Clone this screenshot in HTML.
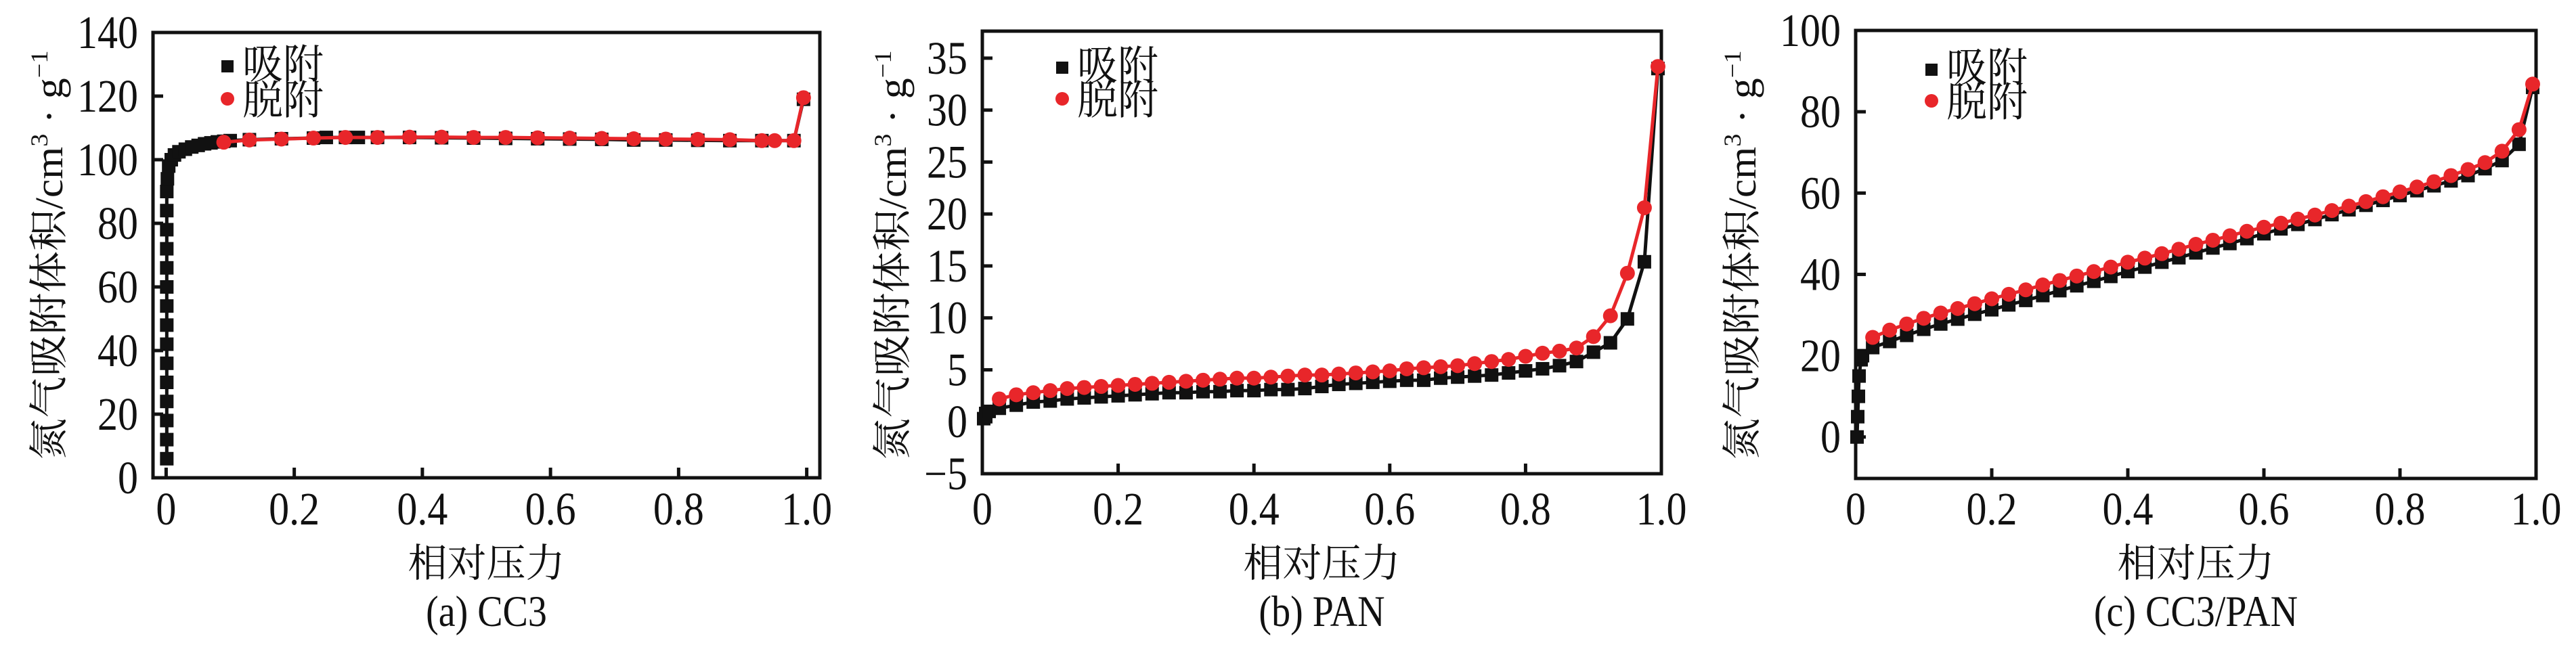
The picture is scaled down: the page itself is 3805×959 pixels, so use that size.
<!DOCTYPE html>
<html><head><meta charset="utf-8"><style>
html,body{margin:0;padding:0;background:#fff}
svg{display:block}
</style></head><body>
<svg id="fig" xmlns="http://www.w3.org/2000/svg" width="3805" height="959" viewBox="0 0 3805 959"></svg>
<script>
// Panel (a) CC3
const aAdsX=[0.001,0.001,0.001,0.001,0.001,0.001,0.001,0.001,0.001,0.001,0.001,0.001,0.001,0.001,0.001,0.002,0.004,0.008,0.013,0.02,0.03,0.04,0.05,0.06,0.07,0.08,0.09,0.1,0.13,0.18,0.23,0.25,0.28,0.3,0.33,0.38,0.43,0.48,0.53,0.58,0.63,0.68,0.73,0.78,0.83,0.88,0.93,0.98,0.995];
const aAdsY=[6,12,18,24,30,36,42,48,54,60,66,72,78,84,90,94,98,100,101.5,102.5,103.3,104,104.5,105,105.3,105.6,105.8,106,106.3,106.6,106.8,107,107,107,107,107,106.9,106.8,106.7,106.6,106.5,106.4,106.2,106.2,106.1,106,106,106,119];
const aDesX=[0.995,0.98,0.95,0.93,0.88,0.83,0.78,0.73,0.68,0.63,0.58,0.53,0.48,0.43,0.38,0.33,0.28,0.23,0.18,0.13,0.09];
const aDesY=[119.5,106,106,106,106.3,106.4,106.5,106.6,106.7,106.8,106.9,107,107,107.1,107.1,107,107,106.8,106.5,106.2,105.5];
// Panel (b) PAN
const bAdsX=[0.002,0.005,0.01,0.025,0.05,0.075,0.1,0.125,0.15,0.175,0.2,0.225,0.25,0.275,0.3,0.325,0.35,0.375,0.4,0.425,0.45,0.475,0.5,0.525,0.55,0.575,0.6,0.625,0.65,0.675,0.7,0.725,0.75,0.775,0.8,0.825,0.85,0.875,0.9,0.925,0.95,0.975,0.995];
const bAdsY=[0.3,0.8,1.0,1.3,1.6,1.9,2.0,2.2,2.3,2.4,2.5,2.6,2.7,2.8,2.8,2.9,2.9,3.0,3.0,3.1,3.1,3.2,3.4,3.6,3.7,3.8,3.9,4.0,4.0,4.2,4.3,4.4,4.5,4.7,4.9,5.1,5.4,5.8,6.7,7.6,9.9,15.4,34];
const bDesX=[0.995,0.975,0.95,0.925,0.9,0.875,0.85,0.825,0.8,0.775,0.75,0.725,0.7,0.675,0.65,0.625,0.6,0.575,0.55,0.525,0.5,0.475,0.45,0.425,0.4,0.375,0.35,0.325,0.3,0.275,0.25,0.225,0.2,0.175,0.15,0.125,0.1,0.075,0.05,0.025];
const bDesY=[34.2,20.6,14.3,10.2,8.2,7.1,6.8,6.6,6.3,6.0,5.8,5.6,5.4,5.3,5.2,5.1,4.9,4.8,4.7,4.6,4.5,4.5,4.4,4.3,4.2,4.2,4.1,4.0,3.9,3.8,3.7,3.6,3.5,3.4,3.3,3.2,3.0,2.8,2.6,2.2];
// Panel (c) CC3/PAN
const cAdsX=[0.002,0.003,0.004,0.005,0.008,0.01,0.025,0.05,0.075,0.1,0.125,0.15,0.175,0.2,0.225,0.25,0.275,0.3,0.325,0.35,0.375,0.4,0.425,0.45,0.475,0.5,0.525,0.55,0.575,0.6,0.625,0.65,0.675,0.7,0.725,0.75,0.775,0.8,0.825,0.85,0.875,0.9,0.925,0.95,0.975,0.995];
const cAdsY=[0,5,10,15,19,20,22,23.5,25,26.5,27.8,29,30.2,31.3,32.5,33.6,34.8,36,37.2,38.3,39.5,40.7,41.8,43,44.1,45.3,46.5,47.6,48.8,50,51.2,52.3,53.5,54.7,55.9,57,58.2,59.4,60.6,61.8,63,64.3,66,68,72,86];
const cDesX=[0.995,0.975,0.95,0.925,0.9,0.875,0.85,0.825,0.8,0.775,0.75,0.725,0.7,0.675,0.65,0.625,0.6,0.575,0.55,0.525,0.5,0.475,0.45,0.425,0.4,0.375,0.35,0.325,0.3,0.275,0.25,0.225,0.2,0.175,0.15,0.125,0.1,0.075,0.05,0.025];
const cDesY=[86.8,75.6,70.3,67.5,65.8,64.3,62.8,61.5,60.3,59.1,57.9,56.8,55.7,54.6,53.6,52.6,51.6,50.6,49.5,48.4,47.4,46.2,45.1,44,43,41.8,40.7,39.6,38.5,37.4,36.2,35.1,34,32.8,31.6,30.5,29.2,27.8,26.3,24.5];
const xTickVals=[0,0.2,0.4,0.6,0.8,1.0];
const xTickLabels=["0","0.2","0.4","0.6","0.8","1.0"];
const aYTicks=[0,20,40,60,80,100,120,140];
const bYTicks=[-5,0,5,10,15,20,25,30,35];
const cYTicks=[0,20,40,60,80,100];
const captions=["(a) CC3","(b) PAN","(c) CC3/PAN"];

const NS="http://www.w3.org/2000/svg";
const svg=document.getElementById('fig');
function mk(tag,attrs,parent){const e=document.createElementNS(NS,tag);for(const k in attrs)e.setAttribute(k,attrs[k]);(parent||svg).appendChild(e);return e;}

const panels=[
 {L:226,R:1211,T:48,B:706,x0:-0.0205,x1:1.0205,y0:0,y1:140,yt:aYTicks,ax:aAdsX,ay:aAdsY,dx:aDesX,dy:aDesY,lx:336,ly1:93,ly2:146,ylx:70,cap:captions[0],key:'a'},
 {L:1451,R:2454,T:46,B:700,x0:0,x1:1,y0:-5,y1:37.6,yt:bYTicks,ax:bAdsX,ay:bAdsY,dx:bDesX,dy:bDesY,lx:1569,ly1:95,ly2:146,ylx:1316,cap:captions[1],key:'b'},
 {L:2741,R:3746,T:45,B:707,x0:0,x1:1,y0:-10.2,y1:100,yt:cYTicks,ax:cAdsX,ay:cAdsY,dx:cDesX,dy:cDesY,lx:2853,ly1:98,ly2:149,ylx:2571,cap:captions[2],key:'c'}
];

panels.forEach(p=>{
 const g=mk('g',{});
 
 
 const sx=v=>p.L+(v-p.x0)/(p.x1-p.x0)*(p.R-p.L);
 const sy=v=>p.B-(v-p.y0)/(p.y1-p.y0)*(p.B-p.T);
 const frame=mk('rect',{x:p.L,y:p.T,width:p.R-p.L,height:p.B-p.T,fill:'none',stroke:'#111','stroke-width':5},g);
 
 
 xTickVals.forEach((v,i)=>{
  const x=sx(v);
  const t=mk('line',{x1:x,y1:p.B,x2:x,y2:p.B-15,stroke:'#111','stroke-width':5},g);
  
  
  const lb=mk('text',{x:x,y:0,transform:'translate(0,775) scale(1,1.15)','text-anchor':'middle','font-family':'Liberation Serif, serif','font-size':60,fill:'#111'},g);
  lb.textContent=xTickLabels[i];
  
  
 });
 p.yt.forEach(v=>{
  const y=sy(v);
  const t=mk('line',{x1:p.L,y1:y,x2:p.L+15,y2:y,stroke:'#111','stroke-width':5},g);
  
  
  const lb=mk('text',{x:p.L-22,y:0,transform:'translate(0,'+(y+23)+') scale(1,1.15)','text-anchor':'end','font-family':'Liberation Serif, serif','font-size':60,fill:'#111'},g);
  lb.textContent=(v<0?'\u2212'+(-v):String(v));
  
  
 });
 const cx=(p.L+p.R)/2;
 const xt=mk('text',{x:cx,y:852,'text-anchor':'middle','font-family':'Liberation Serif, Noto Serif CJK SC, serif','font-size':58,fill:'#111'},g);
 xt.textContent='相对压力';
 
 
 const cp=mk('text',{x:cx,y:0,transform:'translate(0,925) scale(1,1.15)','text-anchor':'middle','font-family':'Liberation Serif, serif','font-size':56,fill:'#111'},g);
 cp.textContent=p.cap;
 
 
 const yl=mk('text',{x:0,y:0,transform:'translate('+(p.ylx+22)+',377) rotate(-90)','text-anchor':'middle','font-family':'Liberation Serif, Noto Serif CJK SC, serif','font-size':58,fill:'#111',textLength:605,lengthAdjust:'spacingAndGlyphs'},g);
 yl.innerHTML='氮气吸附体积/cm<tspan dy="-22" font-size="36">3</tspan><tspan dy="22"> · g</tspan><tspan dy="-22" font-size="36">−1</tspan>';
 
 
 const ap=p.ax.map((x,i)=>sx(x)+','+sy(p.ay[i])).join(' ');
 const al=mk('polyline',{points:ap,fill:'none',stroke:'#111','stroke-width':5},g);
 
 
 p.ax.forEach((x,i)=>{
  const m=mk('rect',{x:sx(x)-10,y:sy(p.ay[i])-10,width:20,height:20,fill:'#111'},g);
  
  
 });
 const dp=p.dx.map((x,i)=>sx(x)+','+sy(p.dy[i])).join(' ');
 const dl=mk('polyline',{points:dp,fill:'none',stroke:'#e8262a','stroke-width':5},g);
 
 
 p.dx.forEach((x,i)=>{
  const m=mk('circle',{cx:sx(x),cy:sy(p.dy[i]),r:11,fill:'#e8262a'},g);
  
  
 });
 const lm1=mk('rect',{x:p.lx-9,y:p.ly1-4,width:18,height:18,fill:'#111'},g);
 
 
 const lt1=mk('text',{x:p.lx+22,y:p.ly1+23,'font-family':'Liberation Serif, Noto Serif CJK SC, serif','font-size':60,fill:'#111'},g);
 lt1.textContent='吸附';
 
 
 const lm2=mk('circle',{cx:p.lx,cy:p.ly2,r:10,fill:'#e8262a'},g);
 
 
 const lt2=mk('text',{x:p.lx+22,y:p.ly2+23,'font-family':'Liberation Serif, Noto Serif CJK SC, serif','font-size':60,fill:'#111'},g);
 lt2.textContent='脱附';
 
 
});
</script>
</body></html>
